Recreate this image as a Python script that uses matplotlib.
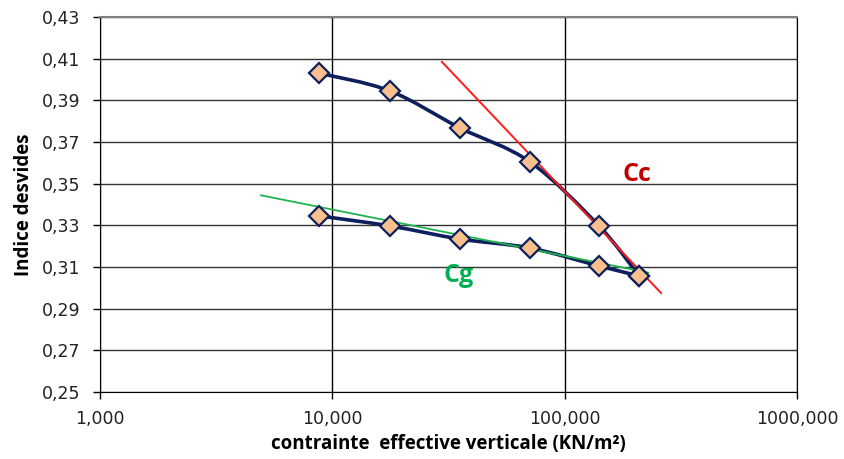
import numpy as np
import matplotlib
matplotlib.use("Agg")
import matplotlib.pyplot as plt
from matplotlib.path import Path
from matplotlib.patches import PathPatch

# essai oedométrique : chargement / déchargement
sigma = [8800, 17700, 35500, 71000, 140600, 209000]
e_charge = [0.4030, 0.3945, 0.3767, 0.3604, 0.3297, 0.3057]
e_decharge = [0.3345, 0.3297, 0.3234, 0.3191, 0.3105, 0.3057]

# droites de Cc et Cg (extrémités)
cc_x = [29600, 260000]
cc_y = [0.4085, 0.2975]
cg_x = [4930, 228500]
cg_y = [0.3444, 0.3073]

x_ticks = [1e3, 1e4, 1e5, 1e6]
x_labels = ["1,000", "10,000", "100,000", "1000,000"]
y_ticks = np.round(np.arange(0.25, 0.4301, 0.02), 2)

NAVY = "#0d1f5c"
ORANGE = "#f9c08e"


def smooth_path(xs, ys, t=1 / 6):
    """courbe lissée type Excel (Catmull-Rom -> Bézier) en espace log-x"""
    lx = np.log10(xs)
    ys = np.asarray(ys)
    verts = [(xs[0], ys[0])]
    codes = [Path.MOVETO]
    n = len(xs)
    for i in range(n - 1):
        i0, i3 = max(i - 1, 0), min(i + 2, n - 1)
        c1 = (lx[i] + (lx[i + 1] - lx[i0]) * t, ys[i] + (ys[i + 1] - ys[i0]) * t)
        c2 = (lx[i + 1] - (lx[i3] - lx[i]) * t, ys[i + 1] - (ys[i3] - ys[i]) * t)
        verts += [(10 ** c1[0], c1[1]), (10 ** c2[0], c2[1]), (xs[i + 1], ys[i + 1])]
        codes += [Path.CURVE4] * 3
    return Path(verts, codes)


fig = plt.figure(figsize=(8.44, 4.59), dpi=100, facecolor="white")
ax = fig.add_axes([0.1185, 0.146, 0.8258, 0.817])
ax.set_xscale("log")
ax.set_xlim(1e3, 1e6)
ax.set_ylim(0.25, 0.43)

ax.set_yticks(y_ticks)
ax.set_yticklabels([f"{v:.2f}".replace(".", ",") for v in y_ticks])
ax.set_xticks(x_ticks)
ax.set_xticklabels(x_labels)
ax.xaxis.set_minor_locator(matplotlib.ticker.NullLocator())
ax.tick_params(axis="both", direction="out", length=5, width=1, colors="black",
               labelsize=12.5, labelcolor="#222222")
ax.tick_params(axis="x", pad=8)
ax.tick_params(axis="y", pad=9)

ax.grid(axis="y", color="#333333", linewidth=1)
ax.grid(axis="x", color="black", linewidth=1)
ax.set_axisbelow(True)
for side in ("left", "bottom", "right"):
    ax.spines[side].set_color("black")
ax.spines["top"].set_color("#808080")
ax.spines["top"].set_linewidth(1.5)

for ys in (e_charge, e_decharge):
    ax.add_patch(PathPatch(smooth_path(sigma, ys), fill=False, edgecolor=NAVY,
                           linewidth=2.6, capstyle="round", zorder=3))

ax.plot(cc_x, cc_y, color="#ff1a1a", linewidth=1.4, zorder=4)
ax.plot(cg_x, cg_y, color="#1fb34f", linewidth=1.3, zorder=4)

for ys in (e_charge, e_decharge):
    ax.plot(sigma, ys, linestyle="none", marker="D", markersize=10.5,
            markerfacecolor=ORANGE, markeredgecolor=NAVY, markeredgewidth=1.6,
            zorder=5)

ax.text(1.78e5, 0.3542, "Cc", color="#c00000", fontsize=18, fontweight="bold",
        family="Open Sans", ha="left", va="center")
ax.text(3.5e4, 0.3057, "Cg", color="#00b050", fontsize=18, fontweight="bold",
        family="Open Sans", ha="center", va="center")

ax.set_xlabel("contrainte  effective verticale (KN/m²)", fontsize=13.5,
              fontweight="bold", family="Open Sans", labelpad=4)
ax.set_ylabel("Indice desvides", fontsize=13.5, fontweight="bold",
              family="Open Sans", labelpad=6)

fig.savefig("out.png", dpi=100, facecolor="white")
